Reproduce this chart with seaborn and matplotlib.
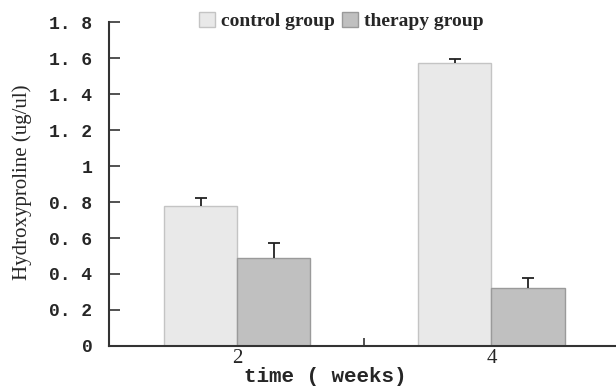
import pandas as pd
import numpy as np
import matplotlib.pyplot as plt
import seaborn as sns

weeks = ["2", "4"]
groups = ["control group", "therapy group"]
control = [0.78, 1.57]
therapy = [0.49, 0.32]
control_err = [0.04, 0.025]
therapy_err = [0.08, 0.06]
yticks = [0, 0.2, 0.4, 0.6, 0.8, 1.0, 1.2, 1.4, 1.6, 1.8]
ytick_labels = ["0", "0. 2", "0. 4", "0. 6", "0. 8", "1", "1. 2", "1. 4", "1. 6", "1. 8"]

df = pd.DataFrame({
    "week": weeks * 2,
    "group": [groups[0]] * 2 + [groups[1]] * 2,
    "value": control + therapy,
    "err": control_err + therapy_err,
})

sns.set_style("white")
fig = plt.figure(figsize=(6.16, 3.87), dpi=100)
ax = fig.add_axes([0.177, 0.106, 0.823, 0.837])

sns.barplot(data=df, x="week", y="value", hue="group", order=weeks, hue_order=groups,
            palette=["#e9e9e9", "#c0c0c0"], width=0.575, errorbar=None, ax=ax,
            linewidth=1.0, saturation=1)
edges = ["#c4c4c4", "#9a9a9a"]
bar_containers = list(ax.containers)
for i, bars in enumerate(bar_containers):
    for b in bars.patches:
        b.set_edgecolor(edges[i])
    sub = df[df["group"] == groups[i]]
    xs = [b.get_x() + b.get_width() / 2 for b in bars.patches]
    eb = ax.errorbar(xs, sub["value"], yerr=[np.zeros(len(sub)), sub["err"]], fmt="none",
                     ecolor="#222222", elinewidth=1.3, capsize=4, capthick=1.3)
    # only the upper cap
    eb[1][0].set_visible(False)

ax.set_xlim(-0.505, 1.49)
ax.set_ylim(0, 1.8)
ax.set_yticks(yticks)
ax.set_yticklabels(ytick_labels, fontfamily="Liberation Mono", fontweight="bold", fontsize=13)
ax.tick_params(axis="y", direction="in", length=8, width=1.2, color="#333333", pad=12, left=True)
ax.tick_params(axis="x", length=0, pad=2)
ax.set_xticks([0, 1])
ax.set_xticklabels(weeks, fontfamily="Liberation Serif", fontsize=15)
ax.set_xticks([0.5], minor=True)
ax.tick_params(axis="x", which="minor", direction="in", length=6, width=1.2, color="#333333", bottom=True)

for s in ["top", "right"]:
    ax.spines[s].set_visible(False)
for s in ["left", "bottom"]:
    ax.spines[s].set_color("#333333")
    ax.spines[s].set_linewidth(1.5)

ax.set_xlabel("")
ax.set_ylabel("")
fig.text(0.036, 0.53, "Hydroxyproline (ug/ul)", fontfamily="Liberation Serif", fontsize=15,
         rotation=90, ha="center", va="center")
fig.text(0.528, 0.027, "time ( weeks)", fontfamily="Liberation Mono", fontweight="bold",
         fontsize=15, ha="center", va="center")

leg = ax.legend(loc="center", bbox_to_anchor=(0.554, 0.945), bbox_transform=fig.transFigure,
                ncol=2, frameon=False, handlelength=0.8, handleheight=0.8, handletextpad=0.3,
                columnspacing=0.4, prop={"family": "Liberation Serif", "weight": "bold", "size": 14})
for h, c in zip(leg.legend_handles, edges):
    h.set_edgecolor(c)
    h.set_linewidth(1.0)

fig.savefig("out.png", dpi=100)
